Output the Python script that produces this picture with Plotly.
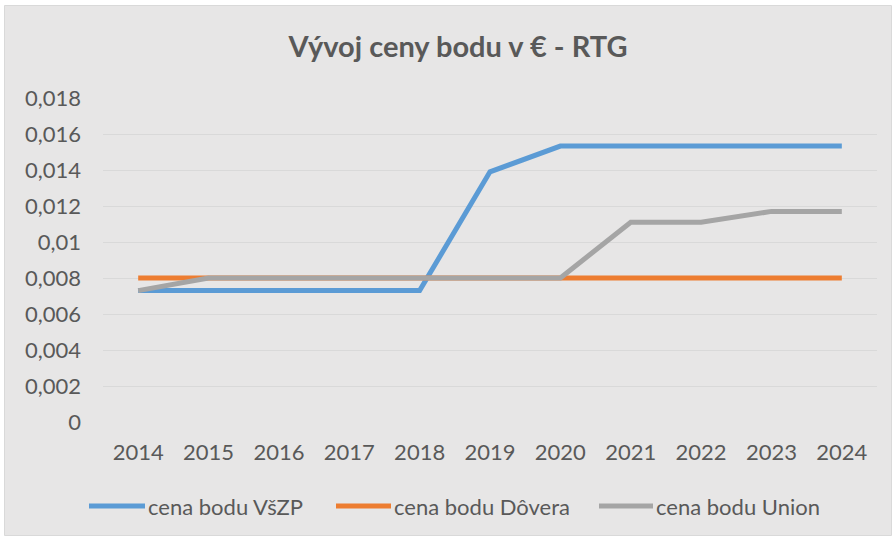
import plotly.graph_objects as go

years = ["2014", "2015", "2016", "2017", "2018", "2019", "2020", "2021", "2022", "2023", "2024"]
vszp = [0.0073, 0.0073, 0.0073, 0.0073, 0.0073, 0.0139, 0.01533, 0.01533, 0.01533, 0.01533, 0.01533]
dovera = [0.008, 0.008, 0.008, 0.008, 0.008, 0.008, 0.008, 0.008, 0.008, 0.008, 0.008]
union = [0.0073, 0.008, 0.008, 0.008, 0.008, 0.008, 0.008, 0.0111, 0.0111, 0.0117, 0.0117]

series_names = ["cena bodu VšZP", "cena bodu Dôvera", "cena bodu Union"]
colors = ["#5b9bd5", "#ed7d31", "#a5a5a5"]

y_tickvals = [0, 0.002, 0.004, 0.006, 0.008, 0.01, 0.012, 0.014, 0.016, 0.018]
y_ticktext = ["0", "0,002", "0,004", "0,006", "0,008", "0,01", "0,012", "0,014", "0,016", "0,018"]

W, H = 894, 537
L, R, T, B = 103, 17, 98, 115
pw = W - L - R
ph = H - T - B
FONT = "Lato, 'Open Sans', sans-serif"
TXT = "#595959"
BG = "#e7e6e6"


def px(x):
    return (x - L) / pw


def py(y):
    return (H - B - y) / ph


fig = go.Figure()
for name, vals, col in zip(series_names, [vszp, dovera, union], colors):
    fig.add_trace(go.Scatter(x=years, y=vals, name=name, mode="lines",
                             line=dict(color=col, width=5), showlegend=False))

# outer chart-area rectangle
fig.add_shape(type="rect", xref="paper", yref="paper", layer="below",
              x0=px(4.5), x1=px(891.5), y0=py(535.5), y1=py(5.5),
              fillcolor=BG, line=dict(color="#d9d9d9", width=1))

# manual legend
leg_y = 506
leg_items = [(89, 145, 148), (336, 391, 394), (599, 653, 656)]
for (lx0, lx1, tx), name, col in zip(leg_items, series_names, colors):
    fig.add_shape(type="line", xref="paper", yref="paper",
                  x0=px(lx0), x1=px(lx1), y0=py(leg_y), y1=py(leg_y),
                  line=dict(color=col, width=5))
    fig.add_annotation(text=name, xref="paper", yref="paper", x=px(tx - 2), y=py(leg_y),
                       xanchor="left", yanchor="middle", showarrow=False,
                       font=dict(size=22, color=TXT, family=FONT))

fig.update_layout(
    width=W, height=H,
    paper_bgcolor="white", plot_bgcolor=BG,
    margin=dict(l=L, r=R, t=T, b=B, autoexpand=False),
    font=dict(family=FONT, color=TXT, size=22),
    title=dict(text="<b>Vývoj ceny bodu v € - RTG</b>", x=458 / W, xanchor="center",
               xref="container", y=1 - 47 / H, yanchor="middle", yref="container",
               font=dict(size=29, color=TXT, family=FONT)),
    xaxis=dict(type="category", showgrid=False, zeroline=False, showline=False,
               ticks="", tickfont=dict(size=22, color=TXT), ticklabelstandoff=15,
               range=[-0.5, 10.5]),
    yaxis=dict(range=[0, 0.018], tickvals=y_tickvals, ticktext=y_ticktext,
               showgrid=True, gridcolor="#d9d9d9", gridwidth=1, zeroline=False,
               showline=False, ticks="", tickfont=dict(size=22, color=TXT),
               ticklabelstandoff=21),
    showlegend=False,
)

fig.write_html("out.html", config={"displayModeBar": False},
               post_script="document.body.style.margin='0';document.body.style.overflow='hidden';")
